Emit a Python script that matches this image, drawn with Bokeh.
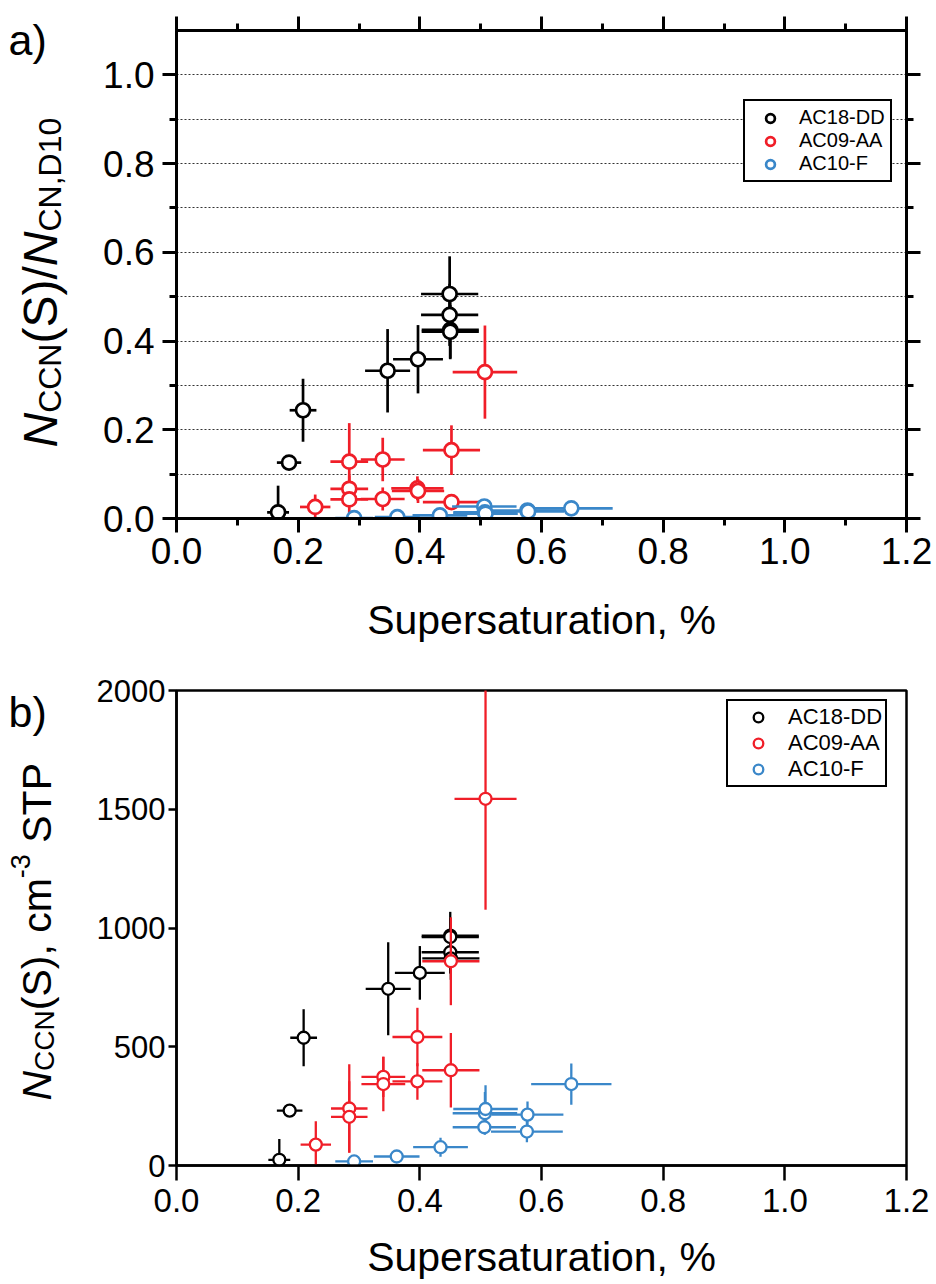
import numpy as np
from bokeh.plotting import figure
from bokeh.models import (LinearAxis, FixedTicker, Legend, LegendItem,
                          NumeralTickFormatter, Range1d)
from bokeh.core.properties import value
from bokeh.layouts import column, row
from bokeh.embed import file_html
from bokeh.resources import INLINE

# ---------------- data : panel a (ratio N_CCN / N_CN,D10) ----------------
a_blk_S = [0.167, 0.185, 0.208, 0.347, 0.397, 0.449, 0.449, 0.450, 0.450]
a_blk_V = [0.014, 0.126, 0.244, 0.333, 0.359, 0.506, 0.459, 0.425, 0.421]
a_blk_dS = [0.018, 0.020, 0.022, 0.037, 0.041, 0.047, 0.047, 0.047, 0.047]
a_blk_dV = [0.060, 0.016, 0.071, 0.094, 0.077, 0.085, 0.070, 0.066, 0.060]

a_red_S = [0.228, 0.284, 0.284, 0.284, 0.339, 0.339, 0.396, 0.397, 0.452, 0.452, 0.507]
a_red_V = [0.026, 0.128, 0.067, 0.043, 0.133, 0.044, 0.068, 0.062, 0.154, 0.037, 0.330]
a_red_dS = [0.025, 0.031, 0.031, 0.031, 0.036, 0.036, 0.043, 0.043, 0.047, 0.047, 0.053]
a_red_dV = [0.028, 0.087, 0.030, 0.043, 0.049, 0.026, 0.027, 0.027, 0.056, 0.008, 0.105]

a_blu_S = [0.292, 0.363, 0.433, 0.506, 0.507, 0.508, 0.577, 0.578, 0.649]
a_blu_V = [0.001, 0.003, 0.007, 0.027, 0.014, 0.011, 0.018, 0.016, 0.023]
a_blu_dS = [0.031, 0.037, 0.045, 0.053, 0.052, 0.053, 0.059, 0.059, 0.068]
a_blu_dV = [0.002, 0.003, 0.004, 0.006, 0.004, 0.003, 0.004, 0.003, 0.005]

# ---------------- data : panel b (N_CCN, cm-3 STP) ----------------
b_blk_S = [0.169, 0.186, 0.209, 0.348, 0.400, 0.450, 0.450, 0.450, 0.451]
b_blk_N = [24, 231, 538, 744, 811, 968, 962, 898, 872]
b_blk_dS = [0.018, 0.021, 0.022, 0.037, 0.041, 0.047, 0.047, 0.047, 0.047]
b_blk_dN = [88, 18, 120, 196, 113, 100, 80, 90, 90]

b_red_S = [0.229, 0.284, 0.284, 0.340, 0.340, 0.396, 0.396, 0.451, 0.451, 0.508]
b_red_N = [88, 240, 205, 373, 343, 541, 354, 860, 401, 1544]
b_red_dS = [0.025, 0.030, 0.030, 0.036, 0.036, 0.041, 0.041, 0.047, 0.047, 0.051]
b_red_dN = [98, 186, 150, 85, 115, 123, 77, 185, 157, 467]

b_blu_S = [0.292, 0.362, 0.434, 0.506, 0.507, 0.508, 0.576, 0.577, 0.649]
b_blu_N = [17, 38, 77, 161, 220, 238, 143, 214, 343]
b_blu_dS = [0.031, 0.0375, 0.045, 0.052, 0.053, 0.053, 0.059, 0.059, 0.066]
b_blu_dN = [10, 25, 40, 25, 90, 100, 45, 55, 87]

series_names = ["AC18-DD", "AC09-AA", "AC10-F"]
x_ticks = [0.0, 0.2, 0.4, 0.6, 0.8, 1.0, 1.2]
x_minor = [0.1, 0.3, 0.5, 0.7, 0.9, 1.1]
a_y_ticks = [0.0, 0.2, 0.4, 0.6, 0.8, 1.0]
a_y_minor = [0.1, 0.3, 0.5, 0.7, 0.9]
a_grid = [0.1, 0.2, 0.3, 0.4, 0.5, 0.6, 0.7, 0.8, 0.9, 1.0]
b_y_ticks = [0, 500, 1000, 1500, 2000]

FONT = "Liberation Sans"
BLACK, RED, BLUE = "#000000", "#f01e28", "#3a87c9"
LW = 80          # width of the strip that holds panel letter + y title

W = {'N': .722, 'C': .722, 'S': .667, '(': .333, ')': .333, '/': .278, 'D': .722,
     '1': .556, '0': .556, ',': .278, ' ': .278, 'c': .5, 'm': .833, '-': .333,
     '3': .556, 'T': .611, 'P': .667}


def tw(s, fs):
    return sum(W[c] for c in s) * fs


def label_strip(H, letter, letter_base, pieces, x_base, y_start):
    """narrow figure whose frame is the whole canvas; coordinates = pixels (y up)"""
    s = figure(frame_width=LW, frame_height=H, output_backend="svg", toolbar_location=None,
               x_range=Range1d(0, LW), y_range=Range1d(0, H),
               x_axis_location=None, y_axis_location=None,
               min_border_left=0, min_border_right=0, min_border_top=0,
               min_border_bottom=0)
    if "frame_align" in s.properties():
        s.frame_align = False
    s.outline_line_color = None
    s.grid.visible = False
    s.text(x=[8], y=[H - letter_base], text=[letter], text_font=value(FONT),
           text_font_size=value("43px"), text_color="black",
           text_align=value("left"), text_baseline=value("alphabetic"))
    y = H - y_start
    for text, fs, italic, shift in pieces:
        lead = len(text) - len(text.lstrip(" "))
        y += tw(" " * lead, fs)
        body = text.lstrip(" ")
        s.text(x=[x_base + shift], y=[y], text=[body], angle=np.pi / 2,
               text_font=value(FONT), text_font_size=value(f"{fs}px"),
               text_font_style=value("italic" if italic else "normal"),
               text_color="black", text_align=value("left"),
               text_baseline=value("alphabetic"))
        y += tw(body, fs)
    return s


def series(p, S, Y, dS, dY, color, lw, size):
    S = np.asarray(S, float); Y = np.asarray(Y, float)
    dS = np.asarray(dS, float); dY = np.asarray(dY, float)
    p.segment(x0=S - dS, y0=Y, x1=S + dS, y1=Y, line_color=color, line_width=lw)
    p.segment(x0=S, y0=Y - dY, x1=S, y1=Y + dY, line_color=color, line_width=lw)
    return p.scatter(S, Y, marker="circle", size=size, fill_color="white",
                     line_color=color, line_width=lw)


def style_axis(ax, lw, tick_font, out_major, out_minor, standoff):
    ax.axis_line_width = lw
    ax.major_tick_line_width = lw
    ax.minor_tick_line_width = lw
    ax.major_tick_out = out_major
    ax.major_tick_in = 0
    ax.minor_tick_out = out_minor
    ax.minor_tick_in = 0
    ax.major_label_text_font = FONT
    ax.major_label_text_font_size = tick_font
    ax.major_label_text_color = "black"
    ax.major_label_standoff = standoff
    ax.axis_label_text_font = FONT
    ax.axis_label_text_font_style = "normal"
    ax.axis_label_text_color = "black"


def mirror_axis(ax, lw, out_major, out_minor):
    style_axis(ax, lw, "1px", out_major, out_minor, 0)
    ax.major_label_text_color = None


def make_legend(rs, loc, fs, gw, gh, ls, pad):
    return Legend(items=[LegendItem(label=n, renderers=[r]) for n, r in zip(series_names, rs)],
                  location=loc, border_line_color="black", border_line_width=2.5,
                  border_line_alpha=1, background_fill_alpha=1,
                  label_text_font=FONT, label_text_font_size=fs, label_text_color="black",
                  glyph_width=gw, glyph_height=gh, label_height=gh, label_standoff=ls,
                  padding=pad, spacing=0, margin=0)


# ======================= Panel a =======================
pa = figure(width=936 - LW, height=660, output_backend="svg", toolbar_location=None,
            x_range=Range1d(0, 1.2), y_range=Range1d(0, 1.1),
            min_border_left=176 - LW, min_border_right=30, min_border_top=30,
            min_border_bottom=142)
pa.outline_line_color = "black"
pa.outline_line_width = 3
pa.xgrid.visible = False
pa.ygrid.ticker = FixedTicker(ticks=a_grid)
pa.ygrid.grid_line_color = "#333333"
pa.ygrid.grid_line_dash = "2 2"
pa.ygrid.grid_line_width = 1

pa.xaxis.ticker = FixedTicker(ticks=x_ticks, minor_ticks=x_minor)
pa.xaxis.formatter = NumeralTickFormatter(format="0.0")
pa.yaxis.ticker = FixedTicker(ticks=a_y_ticks, minor_ticks=a_y_minor)
pa.yaxis.formatter = NumeralTickFormatter(format="0.0")
style_axis(pa.xaxis[0], 3, "37px", 14, 7, 5)
style_axis(pa.yaxis[0], 3, "37px", 14, 7, 8)
pa.xaxis.axis_label = "Supersaturation, %"
pa.xaxis.axis_label_text_font_size = "41px"
pa.xaxis.axis_label_standoff = 30

top_a = LinearAxis(ticker=FixedTicker(ticks=x_ticks, minor_ticks=x_minor))
mirror_axis(top_a, 3, 14, 7)
pa.add_layout(top_a, "above")
right_a = LinearAxis(ticker=FixedTicker(ticks=a_y_ticks, minor_ticks=a_y_minor))
mirror_axis(right_a, 3, 14, 7)
pa.add_layout(right_a, "right")

ra1 = series(pa, a_blk_S, a_blk_V, a_blk_dS, a_blk_dV, BLACK, 2.7, 14)
ra2 = series(pa, a_red_S, a_red_V, a_red_dS, a_red_dV, RED, 2.7, 14)
ra3 = series(pa, a_blu_S, a_blu_V, a_blu_dS, a_blu_dV, BLUE, 2.7, 14)

pa.add_layout(make_legend([ra1, ra2, ra3], (567, 336), "20px", 40, 22, 9, 5))

sa = label_strip(660, "a)", 39,
                 [("N", 48, True, 0), ("CCN", 32, False, 9), ("(S)/", 48, False, 0),
                  ("N", 48, True, 0), ("CN,D10", 32, False, 9)], 40, 447)

# ======================= Panel b =======================
pb = figure(width=936 - LW, height=624, output_backend="svg", toolbar_location=None,
            x_range=Range1d(0, 1.2), y_range=Range1d(0, 2000),
            min_border_left=176 - LW, min_border_right=30, min_border_top=30,
            min_border_bottom=119)
pb.outline_line_color = "black"
pb.outline_line_width = 2.5
pb.grid.visible = False
pb.xaxis.ticker = FixedTicker(ticks=x_ticks)
pb.xaxis.formatter = NumeralTickFormatter(format="0.0")
pb.yaxis.ticker = FixedTicker(ticks=b_y_ticks)
style_axis(pb.xaxis[0], 2.5, "33px", 15, 0, 8)
style_axis(pb.yaxis[0], 2.5, "31px", 8, 0, 3)
pb.xaxis.axis_label = "Supersaturation, %"
pb.xaxis.axis_label_text_font_size = "41px"
pb.xaxis.axis_label_standoff = 19

rb1 = series(pb, b_blk_S, b_blk_N, b_blk_dS, b_blk_dN, BLACK, 2.3, 12)
rb2 = series(pb, b_red_S, b_red_N, b_red_dS, b_red_dN, RED, 2.3, 12)
rb3 = series(pb, b_blu_S, b_blu_N, b_blu_dS, b_blu_dN, BLUE, 2.3, 12)

pb.add_layout(make_legend([rb1, rb2, rb3], (550, 378), "22px", 54, 24, 3, 3))

sb = label_strip(624, "b)", 51,
                 [("N", 41, True, 0), ("CCN", 28, False, 8), ("(S), cm", 41, False, 0),
                  ("-3", 27, False, -16), (" STP", 41, False, 0)], 36, 440)

layout = column(row(sa, pa, spacing=0), row(sb, pb, spacing=0), spacing=0)
open("out.html", "w").write(file_html(layout, INLINE))
